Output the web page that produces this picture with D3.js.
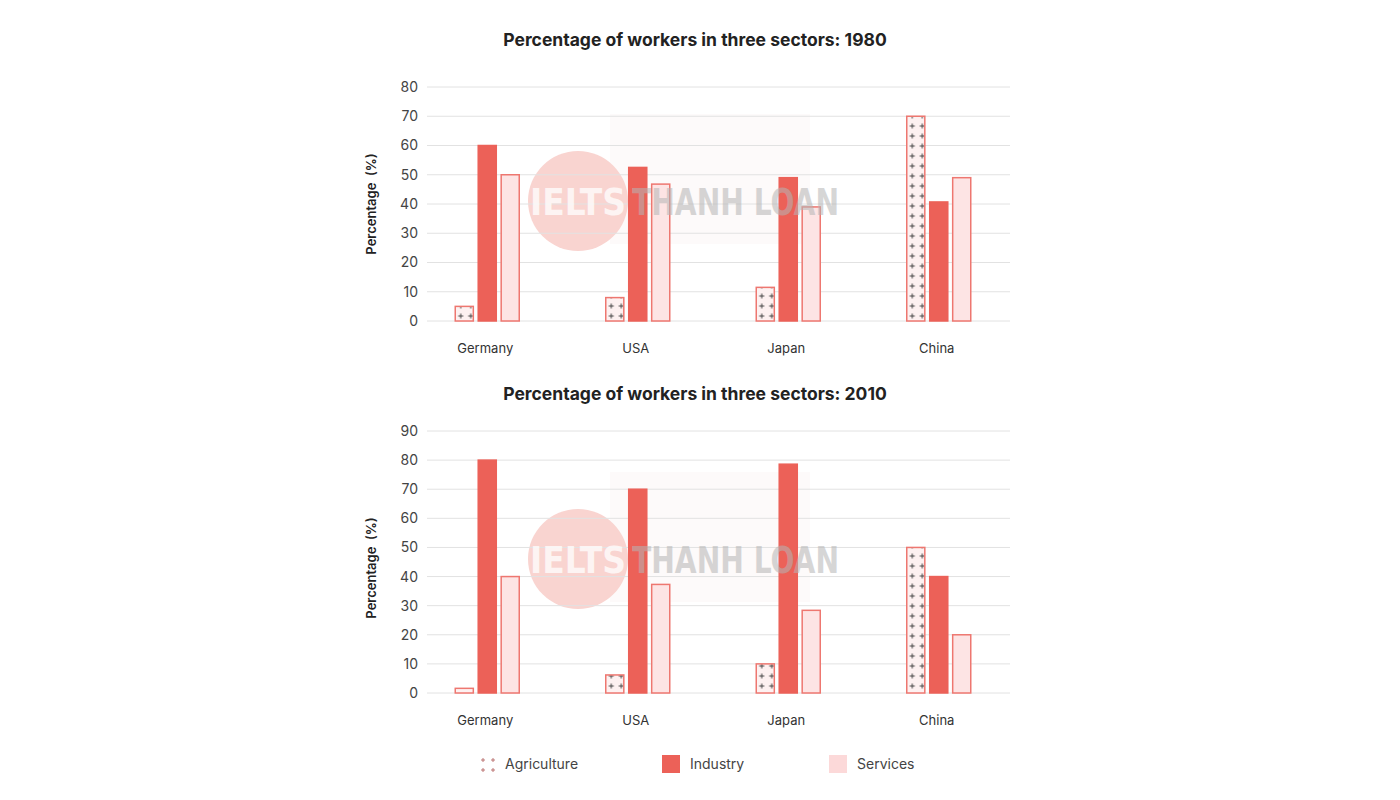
<!DOCTYPE html>
<html><head><meta charset="utf-8">
<script src="https://cdn.jsdelivr.net/npm/d3@7/dist/d3.min.js"></script>
<style>body{margin:0;background:#fff;} svg{font-family:Inter,"Noto Sans",sans-serif;}</style>
</head><body>
<svg id="c" width="1400" height="800"></svg>
<script>
const countries = ["Germany","USA","Japan","China"];
const sectors = ["Agriculture","Industry","Services"];
const agri1980 = [5, 8, 11.5, 70];
const industry1980 = [60, 52.5, 49, 40.7];
const services1980 = [50, 46.8, 39, 49];
const agri2010 = [1.6, 6.2, 10, 50];
const industry2010 = [80, 70, 78.6, 40];
const services2010 = [40, 37.3, 28.4, 20];
const ticks1980 = [0,10,20,30,40,50,60,70,80];
const ticks2010 = [0,10,20,30,40,50,60,70,80,90];

const svg = d3.select("#c");
const defs = svg.append("defs");
const pat = defs.append("pattern").attr("id","plus").attr("patternUnits","userSpaceOnUse")
  .attr("width",10).attr("height",10).attr("x",1).attr("y",1);
pat.append("rect").attr("width",10).attr("height",10).attr("fill","#fdf1f1");
pat.append("path").attr("d","M2.5,5 h5 M5,2.5 v5").attr("stroke","#444").attr("stroke-width",1);

const stroke = "#ee7770";
const fills = {Agriculture:"url(#plus)", Industry:"#ec6158", Services:"#fde4e4"};

function chart(cfg){
  const {title, titleY, top, bottom, max, ticks, data, labelY} = cfg;
  const g = svg.append("g");
  const y = d3.scaleLinear().domain([0,max]).range([bottom, top]);
  const x0 = d3.scaleBand().domain(countries).range([412,1014]);
  const x1 = d3.scaleBand().domain(sectors).range([0,65]).paddingInner(0.17);
  // watermark background
  const wm = g.append("g");
  wm.append("rect").attr("x",610).attr("y",(top+bottom)/2-90).attr("width",200).attr("height",130)
    .attr("fill","#f6ecec").attr("opacity",0.25);
  wm.append("circle").attr("cx",578).attr("cy",(top+bottom)/2-3).attr("r",50).attr("fill","#f9d4d0");
  // grid
  g.append("g").selectAll("line").data(ticks).join("line")
    .attr("x1",427).attr("x2",1010).attr("y1",d=>y(d)).attr("y2",d=>y(d))
    .attr("stroke","#e2e2e2").attr("stroke-width",1);
  // y axis
  const ax = g.append("g").attr("transform","translate(427,0)")
    .call(d3.axisLeft(y).tickValues(ticks).tickSize(0).tickPadding(9));
  ax.select(".domain").remove();
  ax.selectAll("text").attr("font-size",14).attr("fill","#444").attr("font-family","Inter,'Noto Sans',sans-serif");
  // x axis labels
  const xa = g.append("g").attr("transform",`translate(0,${bottom})`)
    .call(d3.axisBottom(x0).tickSize(0).tickPadding(23));
  xa.select(".domain").remove();
  xa.selectAll("text").attr("font-size",13).attr("fill","#333").attr("font-family","Inter,'Noto Sans',sans-serif")
    .attr("dx",-2);
  // bars
  const groups = g.append("g").selectAll("g").data(countries).join("g")
    .attr("transform",d=>`translate(${x0(d)+x0.bandwidth()/2-32.5},0)`);
  groups.selectAll("rect").data((c,i)=>sectors.map(s=>({s, v:data[s][i]}))).join("rect")
    .attr("x",d=>x1(d.s)+0.5).attr("width",x1.bandwidth()-1)
    .attr("y",d=>y(d.v)).attr("height",d=>y(0)-y(d.v))
    .attr("fill",d=>fills[d.s])
    .attr("stroke",d=>d.s==="Industry"?"#ec6158":stroke).attr("stroke-width",1.5);
  // watermark text
  const wy = (top+bottom)/2+11;
  g.append("text").attr("x",530).attr("y",wy).text("IELTS")
    .attr("font-family","'DejaVu Sans Condensed','Liberation Sans Narrow',sans-serif").attr("font-weight","bold")
    .attr("font-size",38).attr("fill","#fff").attr("opacity",0.75).attr("textLength",96).attr("lengthAdjust","spacingAndGlyphs");
  g.append("text").attr("x",632).attr("y",wy).text("THANH LOAN")
    .attr("font-family","'DejaVu Sans Condensed','Liberation Sans Narrow',sans-serif").attr("font-weight","bold")
    .attr("font-size",38).attr("fill","#b5b5b5").attr("opacity",0.55).attr("textLength",207).attr("lengthAdjust","spacingAndGlyphs");
  // title
  svg.append("text").attr("x",695).attr("y",titleY).attr("text-anchor","middle")
    .attr("font-size",17.5).attr("font-weight","bold").attr("fill","#222").text(title);
  // y label
  svg.append("text").attr("transform",`translate(376,${labelY}) rotate(-90)`).attr("text-anchor","middle")
    .attr("font-size",13).attr("font-weight",600).attr("fill","#222").attr("xml:space","preserve").text("Percentage  (%)");
}

chart({title:"Percentage of workers in three sectors: 1980", titleY:46, top:87, bottom:321, max:80, ticks:ticks1980,
  data:{Agriculture:agri1980, Industry:industry1980, Services:services1980}, labelY:204});
chart({title:"Percentage of workers in three sectors: 2010", titleY:400, top:431, bottom:693, max:90, ticks:ticks2010,
  data:{Agriculture:agri2010, Industry:industry2010, Services:services2010}, labelY:568});

// legend
const leg = svg.append("g");
const legItems = [{s:"Agriculture", x:480}, {s:"Industry", x:662}, {s:"Services", x:829}];
legItems.forEach(it=>{
  if(it.s==="Agriculture"){
    const p = leg.append("g").attr("transform",`translate(${it.x},757)`);
    [[3,3],[13,3],[3,13],[13,13]].forEach(([a,b])=>{
      p.append("path").attr("d",`M${a-2},${b} h4 M${a},${b-2} v4`).attr("stroke","#b56a66").attr("stroke-width",0.9);
    });
  } else {
    leg.append("rect").attr("x",it.x).attr("y",755).attr("width",18).attr("height",18)
      .attr("fill",it.s==="Industry"?"#ec6158":"#fcd9d9");
  }
  leg.append("text").attr("x",it.x+(it.s==="Agriculture"?25:28)).attr("y",769)
    .attr("font-size",14).attr("fill","#444").text(it.s);
});
</script>
</body></html>
